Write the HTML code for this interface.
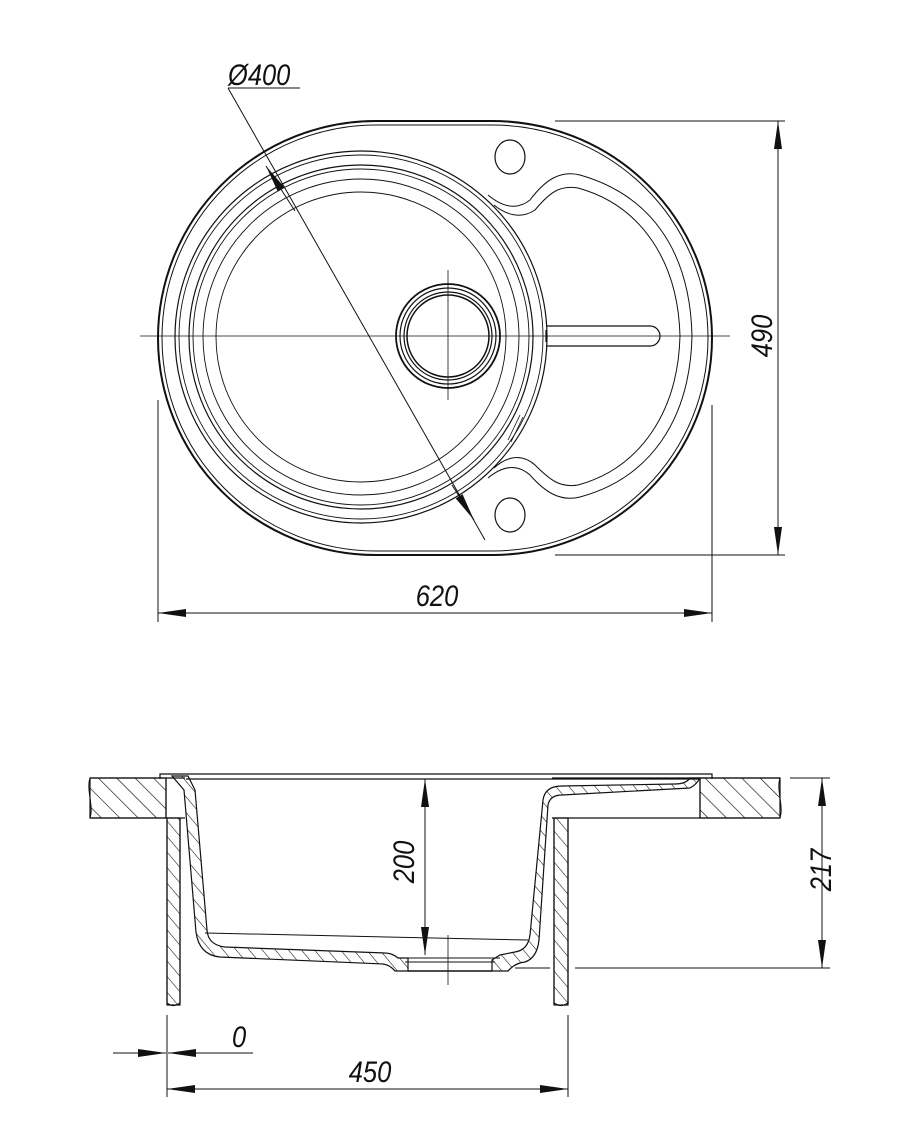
<!DOCTYPE html>
<html><head><meta charset="utf-8"><style>
html,body{margin:0;padding:0;background:#fff;}
svg{display:block}
text{font-family:"Liberation Sans",sans-serif;font-style:italic;font-size:30px;fill:#111}
</style></head><body>
<svg width="900" height="1144" viewBox="0 0 900 1144" xmlns="http://www.w3.org/2000/svg">
<defs>
<pattern id="h1" width="13" height="13" patternUnits="userSpaceOnUse" patternTransform="rotate(-45)">
<line x1="0" y1="0" x2="0" y2="13" stroke="#111" stroke-width="1.3"/></pattern>
<pattern id="h2" width="10" height="10" patternUnits="userSpaceOnUse" patternTransform="rotate(-40)">
<line x1="0" y1="0" x2="0" y2="10" stroke="#111" stroke-width="1.1"/></pattern>
<marker id="a" viewBox="0 0 28 10" refX="28" refY="5" markerWidth="28" markerHeight="10" markerUnits="userSpaceOnUse" orient="auto-start-reverse"><path d="M0,1 L28,5 L0,9 Z" fill="#111"/></marker>
</defs>
<g fill="none" stroke="#111" stroke-width="1.2">
<path d="M376,121 L492,121 A220,217 0 0 1 492,555 L376,555 A218,217 0 0 1 376,121 Z" stroke-width="2"/>
<path d="M376,125 L492,125 A216,213 0 0 1 492,551 L376,551 A214,213 0 0 1 376,125 Z" stroke-width="1"/>
<circle cx="361" cy="337" r="186"/>
<circle cx="361" cy="337" r="182" stroke-width="0.9"/>
<circle cx="361" cy="337" r="172"/>
<circle cx="361" cy="337" r="168" stroke-width="0.9"/>
<circle cx="361" cy="337" r="158" stroke-width="0.9"/>
<circle cx="361" cy="337" r="145" stroke-width="0.9"/>
<circle cx="448" cy="336" r="52" stroke-width="1.8"/>
<circle cx="448" cy="336" r="48"/>
<circle cx="448" cy="336" r="44"/>
<circle cx="448" cy="336" r="41" stroke-width="1.5"/>
<path d="M488,195 C500,205 515,212 530,200 C545,180 560,170 580,175 C650,195 690,250 692,336 C690,420 650,478 580,497 C560,502 545,492 530,475 C515,462 500,468 488,478" stroke-width="1"/>
<path d="M494,205 C505,214 520,220 535,210 C550,192 560,185 578,188 C640,205 678,260 680,336 C678,412 640,468 578,485 C560,488 550,480 535,465 C520,452 505,458 494,468" stroke-width="1"/>
<ellipse cx="510" cy="157" rx="15" ry="17"/>
<ellipse cx="510" cy="515" rx="15" ry="17"/>
<path d="M546,326 L650,326 A10,10 0 0 1 650,346 L546,346"/>
<line x1="546" y1="330" x2="546" y2="342"/>
<path d="M508,440 L520,415" stroke-width="0.8"/><path d="M511,442 L523,417" stroke-width="0.8"/>
<g stroke-width="0.8">
<line x1="140" y1="336" x2="730" y2="336"/>
<line x1="448" y1="270" x2="448" y2="400"/>
</g>
<g stroke-width="1">
<line x1="228" y1="88" x2="300" y2="88"/>
<line x1="228" y1="88" x2="485" y2="540"/>
</g>
<line x1="295" y1="211" x2="266" y2="166" stroke-width="1" marker-end="url(#a)"/>
<line x1="452" y1="485" x2="474" y2="520" stroke-width="1" marker-end="url(#a)"/>
<g stroke-width="1">
<line x1="555" y1="121" x2="785" y2="121"/>
<line x1="555" y1="555" x2="785" y2="555"/>
<line x1="778" y1="121" x2="778" y2="555" marker-start="url(#a)" marker-end="url(#a)"/>
<line x1="158" y1="400" x2="158" y2="622"/>
<line x1="712" y1="405" x2="712" y2="622"/>
<line x1="158" y1="613" x2="712" y2="613" marker-start="url(#a)" marker-end="url(#a)"/>
</g>

<rect x="90" y="778" width="76" height="40" fill="url(#h1)"/>
<path d="M90,778 L185,778 M90,818 L185,818 M166,778 L166,818" />
<path d="M90,778 C86,790 94,806 90,818" stroke-width="1"/>
<rect x="700" y="778" width="80" height="40" fill="url(#h1)"/>
<path d="M552,778 L780,778 M552,818 L780,818 M700,778 L700,818"/>
<path d="M780,778 C776,790 784,806 780,818" stroke-width="1"/>
<rect x="167" y="818" width="13" height="187" fill="url(#h2)"/>
<path d="M167,818 L167,1003 Q173,1008 180,1003 L180,818"/>
<rect x="554" y="818" width="14" height="187" fill="url(#h2)"/>
<path d="M554,818 L554,1003 Q561,1008 568,1003 L568,818"/>
<path d="M160,779 L160,774 L712,774 L712,779"/>
<line x1="186" y1="779" x2="700" y2="779"/>
<path d="M172,776 L184,790 L196,932 Q199,955 220,957 L383,964 Q390,965 395,971 L408,971 L408,958 L398,958 Q392,953 385,953 L225,947 Q208,945 207,930 L195,790 L188,776 Z" fill="url(#h2)"/>
<path d="M492,971 L508,971 Q515,963 525,962 Q537,958 539,940 L548,805 Q550,795 562,795 L690,788 Q697,784 700,778 L690,778 Q686,784 675,784 L562,786 Q545,786 543,800 L530,935 Q528,950 515,952 L500,955 Q495,958 492,960 Z" fill="url(#h2)"/>
<g stroke-width="1">
<line x1="398" y1="958" x2="500" y2="958"/>
<line x1="405" y1="962" x2="495" y2="962"/>
<line x1="408" y1="971" x2="492" y2="971" stroke-width="1.6"/>
<line x1="205" y1="933" x2="528" y2="940"/>
</g>
<line x1="425" y1="779" x2="425" y2="955" stroke-width="1" marker-start="url(#a)" marker-end="url(#a)"/>
<line x1="448" y1="935" x2="448" y2="985" stroke-width="0.8"/>
<g stroke-width="1">
<line x1="790" y1="778" x2="830" y2="778"/>
<line x1="515" y1="968" x2="550" y2="968"/>
<line x1="575" y1="968" x2="830" y2="968"/>
<line x1="822" y1="778" x2="822" y2="968" marker-start="url(#a)" marker-end="url(#a)"/>
<line x1="167" y1="1015" x2="167" y2="1097"/>
<line x1="568" y1="1015" x2="568" y2="1097"/>
<line x1="113" y1="1053" x2="166" y2="1053" marker-end="url(#a)"/>
<line x1="253" y1="1053" x2="168" y2="1053" marker-end="url(#a)"/>
<line x1="167" y1="1089" x2="568" y2="1089" marker-start="url(#a)" marker-end="url(#a)"/>
</g>
</g>
<text transform="translate(228,85) scale(0.85,1)">Ø400</text>
<text transform="translate(437,606) scale(0.85,1)" text-anchor="middle">620</text>
<text transform="translate(772,336) rotate(-90) scale(0.85,1)" text-anchor="middle">490</text>
<text transform="translate(414,862) rotate(-90) scale(0.85,1)" text-anchor="middle">200</text>
<text transform="translate(831,870) rotate(-90) scale(0.85,1)" text-anchor="middle">217</text>
<text transform="translate(232,1047) scale(0.85,1)">0</text>
<text transform="translate(370,1082) scale(0.85,1)" text-anchor="middle">450</text>
</svg>
</body></html>
